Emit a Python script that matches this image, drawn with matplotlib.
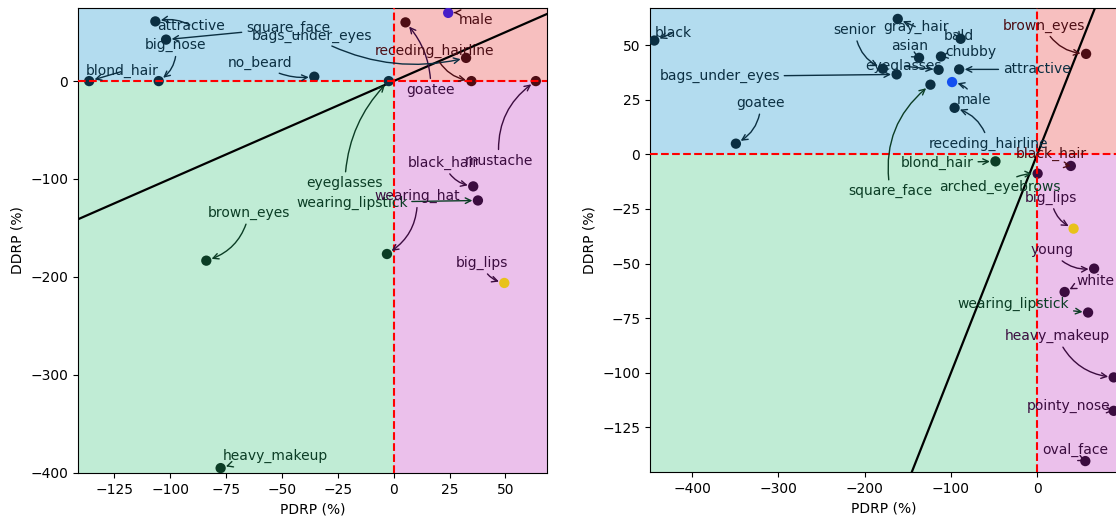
import matplotlib
matplotlib.use("Agg")
import matplotlib.pyplot as plt
from matplotlib.patches import Rectangle

plt.rcParams["font.family"] = "DejaVu Sans"
plt.rcParams["font.size"] = 10

# ---- left panel: attribute disparities (PDRP vs DDRP, %) ----
left_attrs = ["attractive", "square_face", "blond_hair", "big_nose", "no_beard",
              "eyeglasses", "male", "goatee", "bags_under_eyes", "receding_hairline",
              "mustache", "black_hair", "wearing_lipstick", "wearing_hat",
              "brown_eyes", "big_lips", "heavy_makeup"]
left_pdrp = [-106.6, -101.8, -136.2, -105.1, -35.5, -2.2, 24.4, 5.3, 32.4, 34.8,
             63.6, 35.6, 37.7, -3.0, -83.8, 49.5, -77.4]
left_ddrp = [61.0, 42.4, 0.0, 0.0, 4.5, 0.0, 69.7, 60.0, 23.7, 0.0,
             0.0, -107.6, -122.0, -176.7, -183.5, -206.3, -395.5]

# ---- right panel ----
right_attrs = ["black", "senior", "gray_hair", "bald", "asian", "chubby", "eyeglasses",
               "attractive", "bags_under_eyes", "male", "receding_hairline",
               "square_face", "goatee", "brown_eyes", "blond_hair", "arched_eyebrows",
               "black_hair", "big_lips", "young", "white", "wearing_lipstick",
               "heavy_makeup", "pointy_nose", "oval_face"]
right_pdrp = [-444.0, -179.0, -161.7, -88.8, -137.0, -111.6, -114.3, -90.5, -163.0,
              -98.7, -95.8, -123.8, -349.4, 56.7, -48.4, 0.5, 39.0, 42.2, 66.0,
              31.8, 59.0, 88.7, 88.7, 55.8]
right_ddrp = [52.1, 39.2, 62.0, 52.9, 44.2, 44.8, 38.7, 38.9, 36.6, 33.1, 21.3,
              31.9, 4.9, 46.0, -3.2, -8.8, -5.3, -34.0, -52.3, -63.0, -72.4,
              -102.1, -117.4, -140.4]

# label placement (data coordinates) and arrow curvature for each attribute
left_text_xy = [(-90.6, 56.7), (-47.3, 54.4), (-121.4, 10.0), (-97.4, 36.6),
                (-59.8, 18.6), (-21.8, -104.1), (36.7, 62.2), (16.6, -8.7),
                (-36.7, 46.5), (18.1, 30.5), (47.2, -81.3), (22.4, -83.6),
                (-18.7, -124.0), (10.5, -117.8), (-64.7, -134.8), (39.3, -185.9),
                (-52.8, -382.6)]
left_rad = [0.2, 0.0, 0.0, -0.3, 0.2, -0.2, 0.2, 0.2, 0.2, 0.3, -0.3, 0.3,
            0.0, -0.3, -0.3, 0.3, 0.05]

right_text_xy = [(-422.3, 55.6), (-211.3, 57.0), (-140.0, 58.2), (-90.7, 54.0),
                 (-148.5, 49.8), (-77.3, 46.8), (-155.5, 40.4), (-0.8, 38.9),
                 (-368.0, 35.7), (-73.3, 25.0), (-56.6, 4.9), (-170.3, -16.8),
                 (-320.6, 23.5), (7.3, 59.0), (-115.6, -3.8), (-43.4, -15.0),
                 (16.5, 0.0), (16.3, -19.8), (17.3, -43.9), (67.0, -58.0),
                 (-27.3, -68.6), (23.3, -83.2), (36.6, -115.1), (43.8, -135.3)]
right_rad = [0.0, 0.3, 0.0, 0.0, 0.2, 0.0, 0.0, 0.0, 0.0, 0.3, 0.3, -0.3,
             -0.3, 0.3, 0.0, -0.2, 0.2, 0.3, 0.3, 0.1, 0.0, 0.3, 0.0, 0.2]

BG = {"tl": "#b3dcef", "tr": "#f7bfbf", "br": "#ebc0eb", "bl": "#c0ecd5"}
DARK = {"tl": "#0b2f42", "tr": "#4d0d14", "br": "#3b0c3f", "bl": "#0b3d25"}
HIGHLIGHT = {"left": {"male": "#461ec8", "big_lips": "#e8c21a"},
             "right": {"male": "#1450f0", "big_lips": "#e8c21a"}}


def quadrant(x, y):
    if y >= 0:
        return "tr" if x >= 0 else "tl"
    return "br" if x >= 0 else "bl"


def draw_panel(ax, attrs, xs, ys, text_xy, rads, highlight):
    x0, x1 = min(xs) - 5, max(xs) + 5
    y0, y1 = min(ys) - 5, max(ys) + 5
    ax.set_xlim(x0, x1)
    ax.set_ylim(y0, y1)

    # quadrant shading
    ax.add_patch(Rectangle((x0, 0), -x0, y1, color=BG["tl"], lw=0, zorder=0))
    ax.add_patch(Rectangle((0, 0), x1, y1, color=BG["tr"], lw=0, zorder=0))
    ax.add_patch(Rectangle((0, y0), x1, -y0, color=BG["br"], lw=0, zorder=0))
    ax.add_patch(Rectangle((x0, y0), -x0, -y0, color=BG["bl"], lw=0, zorder=0))

    # equal-disparity diagonal
    ax.axline((0, 0), slope=1, color="black", lw=1.6, zorder=2)

    colors = [highlight.get(a, DARK[quadrant(x, y)]) for a, x, y in zip(attrs, xs, ys)]
    ax.scatter(xs, ys, s=55, c=colors, edgecolors="none", zorder=3)

    ax.axhline(0, color="red", ls="--", lw=1.5, zorder=3.5)
    ax.axvline(0, color="red", ls="--", lw=1.5, zorder=3.5)

    for a, x, y, (tx, ty), r in zip(attrs, xs, ys, text_xy, rads):
        tc = DARK[quadrant(tx, ty)]
        ax.annotate(a, xy=(x, y), xytext=(tx, ty), ha="center", va="center",
                    color=tc, fontsize=10, zorder=4,
                    arrowprops=dict(arrowstyle="->", color=tc, lw=1.0,
                                    connectionstyle=f"arc3,rad={r}",
                                    shrinkA=1, shrinkB=4))

    ax.set_xlabel("PDRP (%)")
    ax.set_ylabel("DDRP (%)")


W, H = 1116, 517
fig = plt.figure(figsize=(W / 100, H / 100), dpi=100)
ax1 = fig.add_axes([78 / W, (H - 473) / H, 469 / W, 465 / H])
ax2 = fig.add_axes([650 / W, (H - 472) / H, 468 / W, 464 / H])

draw_panel(ax1, left_attrs, left_pdrp, left_ddrp, left_text_xy, left_rad, HIGHLIGHT["left"])
draw_panel(ax2, right_attrs, right_pdrp, right_ddrp, right_text_xy, right_rad, HIGHLIGHT["right"])

ax1.set_xticks([-125, -100, -75, -50, -25, 0, 25, 50])
ax1.set_yticks([-400, -300, -200, -100, 0])
ax2.set_xticks([-400, -300, -200, -100, 0])
ax2.set_yticks([-125, -100, -75, -50, -25, 0, 25, 50])

fig.savefig("out.png", dpi=100)
